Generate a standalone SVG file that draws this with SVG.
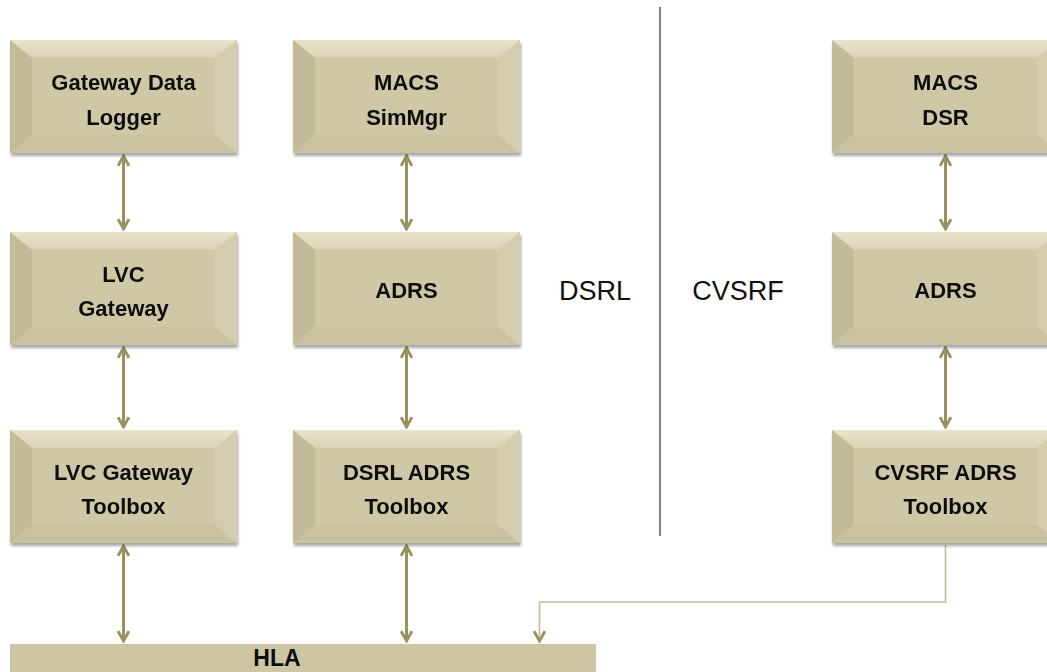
<svg xmlns="http://www.w3.org/2000/svg" width="1047" height="672" viewBox="0 0 1047 672">
<style>
  .lbl{font-family:"Liberation Sans",Arial,sans-serif;font-weight:bold;font-size:22px;fill:#0d0d0d;text-anchor:middle}
  .side{font-family:"Liberation Sans",Arial,sans-serif;font-size:27px;fill:#111;text-anchor:middle}
  .face{fill:#CFC8A7}
  .bt{fill:url(#gTop)}
  .bl{fill:#C3BB98}
  .bb{fill:#C9C2A1}
  .br{fill:#D4CDB0}
  .conn{stroke:#9A9160;stroke-width:3;fill:none}
  .thin{stroke:#C4BC96;stroke-width:1.6;fill:none}
</style>
<defs>
  <linearGradient id="gTop" x1="0" y1="0" x2="0" y2="1">
    <stop offset="0" stop-color="#EAE4CC"/>
    <stop offset="1" stop-color="#D9D2B5"/>
  </linearGradient>
  <marker id="ah" viewBox="0 0 12 12" refX="10" refY="6" markerWidth="13" markerHeight="13" markerUnits="userSpaceOnUse" orient="auto-start-reverse">
    <path d="M1,1 L10,6 L1,11" fill="none" stroke="#9A9160" stroke-width="2.6"/>
  </marker>
  <marker id="ah2" viewBox="0 0 12 12" refX="10" refY="6" markerWidth="13" markerHeight="13" markerUnits="userSpaceOnUse" orient="auto">
    <path d="M1,1 L10,6 L1,11" fill="none" stroke="#9A9160" stroke-width="2.6"/>
  </marker>
  <filter id="sh" x="-5%" y="-5%" width="115%" height="120%">
    <feGaussianBlur in="SourceAlpha" stdDeviation="1.5"/>
    <feOffset dx="1" dy="3" result="o"/>
    <feComponentTransfer><feFuncA type="linear" slope="0.35"/></feComponentTransfer>
    <feMerge><feMergeNode/><feMergeNode in="SourceGraphic"/></feMerge>
  </filter>
  <g id="bevel">
    <rect x="0" y="0" width="227" height="113" class="face"/>
    <polygon points="0,0 227,0 205,18 22,18" class="bt"/>
    <polygon points="0,0 22,18 22,95 0,113" class="bl"/>
    <polygon points="0,113 22,95 205,95 227,113" class="bb"/>
    <polygon points="227,0 227,113 205,95 205,18" class="br"/>
    <rect x="22" y="18" width="183" height="77" class="face"/>
  </g>
</defs>
<rect width="1047" height="672" fill="#fff"/>

<line x1="660" y1="7" x2="660" y2="536" stroke="#555" stroke-width="1.5"/>
<text class="side" x="595" y="300">DSRL</text>
<text class="side" x="738" y="300">CVSRF</text>

<g id="connectors">
  <line class="conn" x1="123.5" y1="156" x2="123.5" y2="229" marker-start="url(#ah)" marker-end="url(#ah)"/>
  <line class="conn" x1="123.5" y1="348" x2="123.5" y2="427" marker-start="url(#ah)" marker-end="url(#ah)"/>
  <line class="conn" x1="123.5" y1="546" x2="123.5" y2="641" marker-start="url(#ah)" marker-end="url(#ah)"/>
  <line class="conn" x1="406.5" y1="156" x2="406.5" y2="229" marker-start="url(#ah)" marker-end="url(#ah)"/>
  <line class="conn" x1="406.5" y1="348" x2="406.5" y2="427" marker-start="url(#ah)" marker-end="url(#ah)"/>
  <line class="conn" x1="406.5" y1="546" x2="406.5" y2="641" marker-start="url(#ah)" marker-end="url(#ah)"/>
  <line class="conn" x1="945.5" y1="156" x2="945.5" y2="229" marker-start="url(#ah)" marker-end="url(#ah)"/>
  <line class="conn" x1="945.5" y1="348" x2="945.5" y2="427" marker-start="url(#ah)" marker-end="url(#ah)"/>
  <path class="thin" d="M945.5,545 V602 H539.5 V641" marker-end="url(#ah2)"/>
</g>

<g id="gateway-data-logger" filter="url(#sh)">
  <use href="#bevel" x="10" y="40"/>
  <text class="lbl" x="123.5" y="90">Gateway Data</text>
  <text class="lbl" x="123.5" y="125">Logger</text>
</g>
<g id="macs-simmgr" filter="url(#sh)">
  <use href="#bevel" x="293" y="40"/>
  <text class="lbl" x="406.5" y="90">MACS</text>
  <text class="lbl" x="406.5" y="125">SimMgr</text>
</g>
<g id="macs-dsr" filter="url(#sh)">
  <use href="#bevel" x="832" y="40"/>
  <text class="lbl" x="945.5" y="90">MACS</text>
  <text class="lbl" x="945.5" y="125">DSR</text>
</g>
<g id="lvc-gateway" filter="url(#sh)">
  <use href="#bevel" x="10" y="232"/>
  <text class="lbl" x="123.5" y="282">LVC</text>
  <text class="lbl" x="123.5" y="316">Gateway</text>
</g>
<g id="adrs-dsrl" filter="url(#sh)">
  <use href="#bevel" x="293" y="232"/>
  <text class="lbl" x="406.5" y="298">ADRS</text>
</g>
<g id="adrs-cvsrf" filter="url(#sh)">
  <use href="#bevel" x="832" y="232"/>
  <text class="lbl" x="945.5" y="298">ADRS</text>
</g>
<g id="lvc-gateway-toolbox" filter="url(#sh)">
  <use href="#bevel" x="10" y="430"/>
  <text class="lbl" x="123.5" y="480">LVC Gateway</text>
  <text class="lbl" x="123.5" y="514">Toolbox</text>
</g>
<g id="dsrl-adrs-toolbox" filter="url(#sh)">
  <use href="#bevel" x="293" y="430"/>
  <text class="lbl" x="406.5" y="480">DSRL ADRS</text>
  <text class="lbl" x="406.5" y="514">Toolbox</text>
</g>
<g id="cvsrf-adrs-toolbox" filter="url(#sh)">
  <use href="#bevel" x="832" y="430"/>
  <text class="lbl" x="945.5" y="480">CVSRF ADRS</text>
  <text class="lbl" x="945.5" y="514">Toolbox</text>
</g>
<g id="hla">
  <rect x="10" y="644" width="586" height="40" fill="#CEC5A5"/>
  <text class="lbl" x="277" y="666" style="font-size:23px">HLA</text>
</g>
</svg>
